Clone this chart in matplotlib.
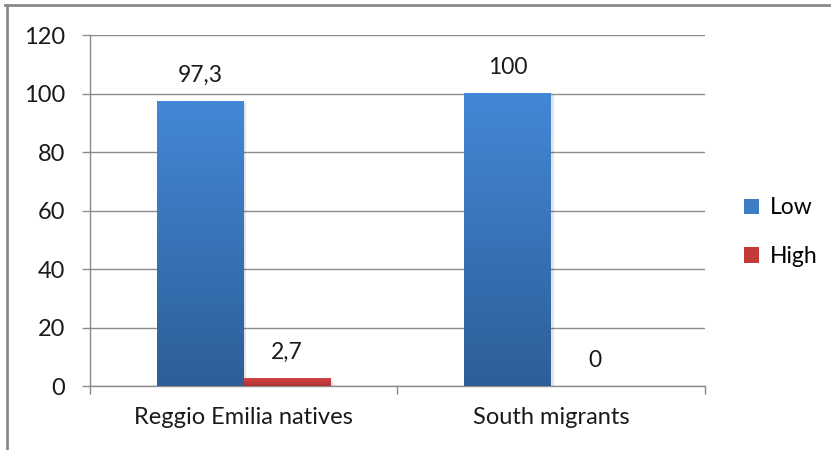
import numpy as np
import matplotlib
matplotlib.use("Agg")
import matplotlib.pyplot as plt
from matplotlib.colors import LinearSegmentedColormap
from matplotlib.patches import Patch
from matplotlib.lines import Line2D

plt.rcParams['font.family'] = ['Lato', 'DejaVu Sans']

categories = ["Reggio Emilia natives", "South migrants"]
series_names = ["Low", "High"]
low_values = [97.3, 100]
high_values = [2.7, 0]
value_labels_low = ["97,3", "100"]
value_labels_high = ["2,7", "0"]
y_ticks = [0, 20, 40, 60, 80, 100, 120]

blue_top, blue_bottom = "#4388D6", "#2D5E98"
red_top, red_bottom = "#D44444", "#B03434"
legend_colors = ["#3E7CC6", "#C23A3A"]

fig = plt.figure(figsize=(8.31, 4.5), dpi=100)
ax = fig.add_axes([0.1083, 0.1422, 0.7400, 0.7800])

x = np.arange(len(categories))
width = 0.282

def gradient_bars(xs, heights, top, bottom):
    cmap = LinearSegmentedColormap.from_list("g", [bottom, top])
    grad = np.linspace(0, 1, 256).reshape(-1, 1)
    bars = ax.bar(xs, heights, width, color="none", edgecolor="none", zorder=3)
    for b in bars:
        h = b.get_height()
        if h <= 0:
            continue
        x0 = b.get_x()
        # soft drop shadow
        ax.bar(x0 + b.get_width() / 2 + 0.008, h, b.get_width(), bottom=-0.6,
               color="#000000", alpha=0.10, zorder=2, edgecolor="none")
        ax.imshow(grad, extent=[x0, x0 + b.get_width(), 0, h], origin="lower",
                  cmap=cmap, aspect="auto", zorder=3)
    return bars

gradient_bars(x - width / 2, low_values, blue_top, blue_bottom)
gradient_bars(x + width / 2, high_values, red_top, red_bottom)

for xi, v, lab in zip(x - width / 2, low_values, value_labels_low):
    ax.annotate(lab, (xi, v), xytext=(0, 11), textcoords="offset points",
                ha="center", va="bottom", fontsize=16.5, color="#1a1a1a")
for xi, v, lab in zip(x + width / 2, high_values, value_labels_high):
    ax.annotate(lab, (xi, v), xytext=(0, 11), textcoords="offset points",
                ha="center", va="bottom", fontsize=16.5, color="#1a1a1a")

ax.set_xlim(-0.5, len(categories) - 0.5)
ax.set_ylim(0, 120)
ax.set_yticks(y_ticks)
ax.set_yticklabels([str(t) for t in y_ticks])
ax.set_xticks(np.arange(-0.5, len(categories), 1.0))
ax.set_xticklabels([])
ax.set_xticks(x, minor=True)
ax.set_xticklabels(categories, minor=True)
ax.tick_params(axis="x", which="minor", length=0, pad=15, labelsize=17, labelcolor="#1a1a1a")
ax.tick_params(axis="x", which="major", length=6, width=1, color="#8c8c8c", direction="out")
ax.tick_params(axis="y", length=6, width=1, color="#8c8c8c", pad=12, labelsize=17,
               labelcolor="#1a1a1a")

ax.grid(axis="y", color="#8c8c8c", linewidth=1, zorder=0)
ax.set_axisbelow(True)
for side in ["top", "right"]:
    ax.spines[side].set_visible(False)
for side in ["left", "bottom"]:
    ax.spines[side].set_color("#8c8c8c")
    ax.spines[side].set_linewidth(1)

handles = [Patch(facecolor=c, edgecolor="none") for c in legend_colors]
fig.legend(handles, series_names, loc="upper left", bbox_to_anchor=(0.871, 0.607),
           frameon=False, fontsize=16.5, handlelength=0.65, handleheight=0.65,
           handletextpad=0.45, labelspacing=1.2)

# outer frame
fig.add_artist(Line2D([0.006, 1.0], [0.988, 0.988], transform=fig.transFigure,
                      color="#8a8a8a", linewidth=2))
fig.add_artist(Line2D([0.0085, 0.0085], [0.0, 0.988], transform=fig.transFigure,
                      color="#8a8a8a", linewidth=2))

fig.savefig("out.png", dpi=100)
